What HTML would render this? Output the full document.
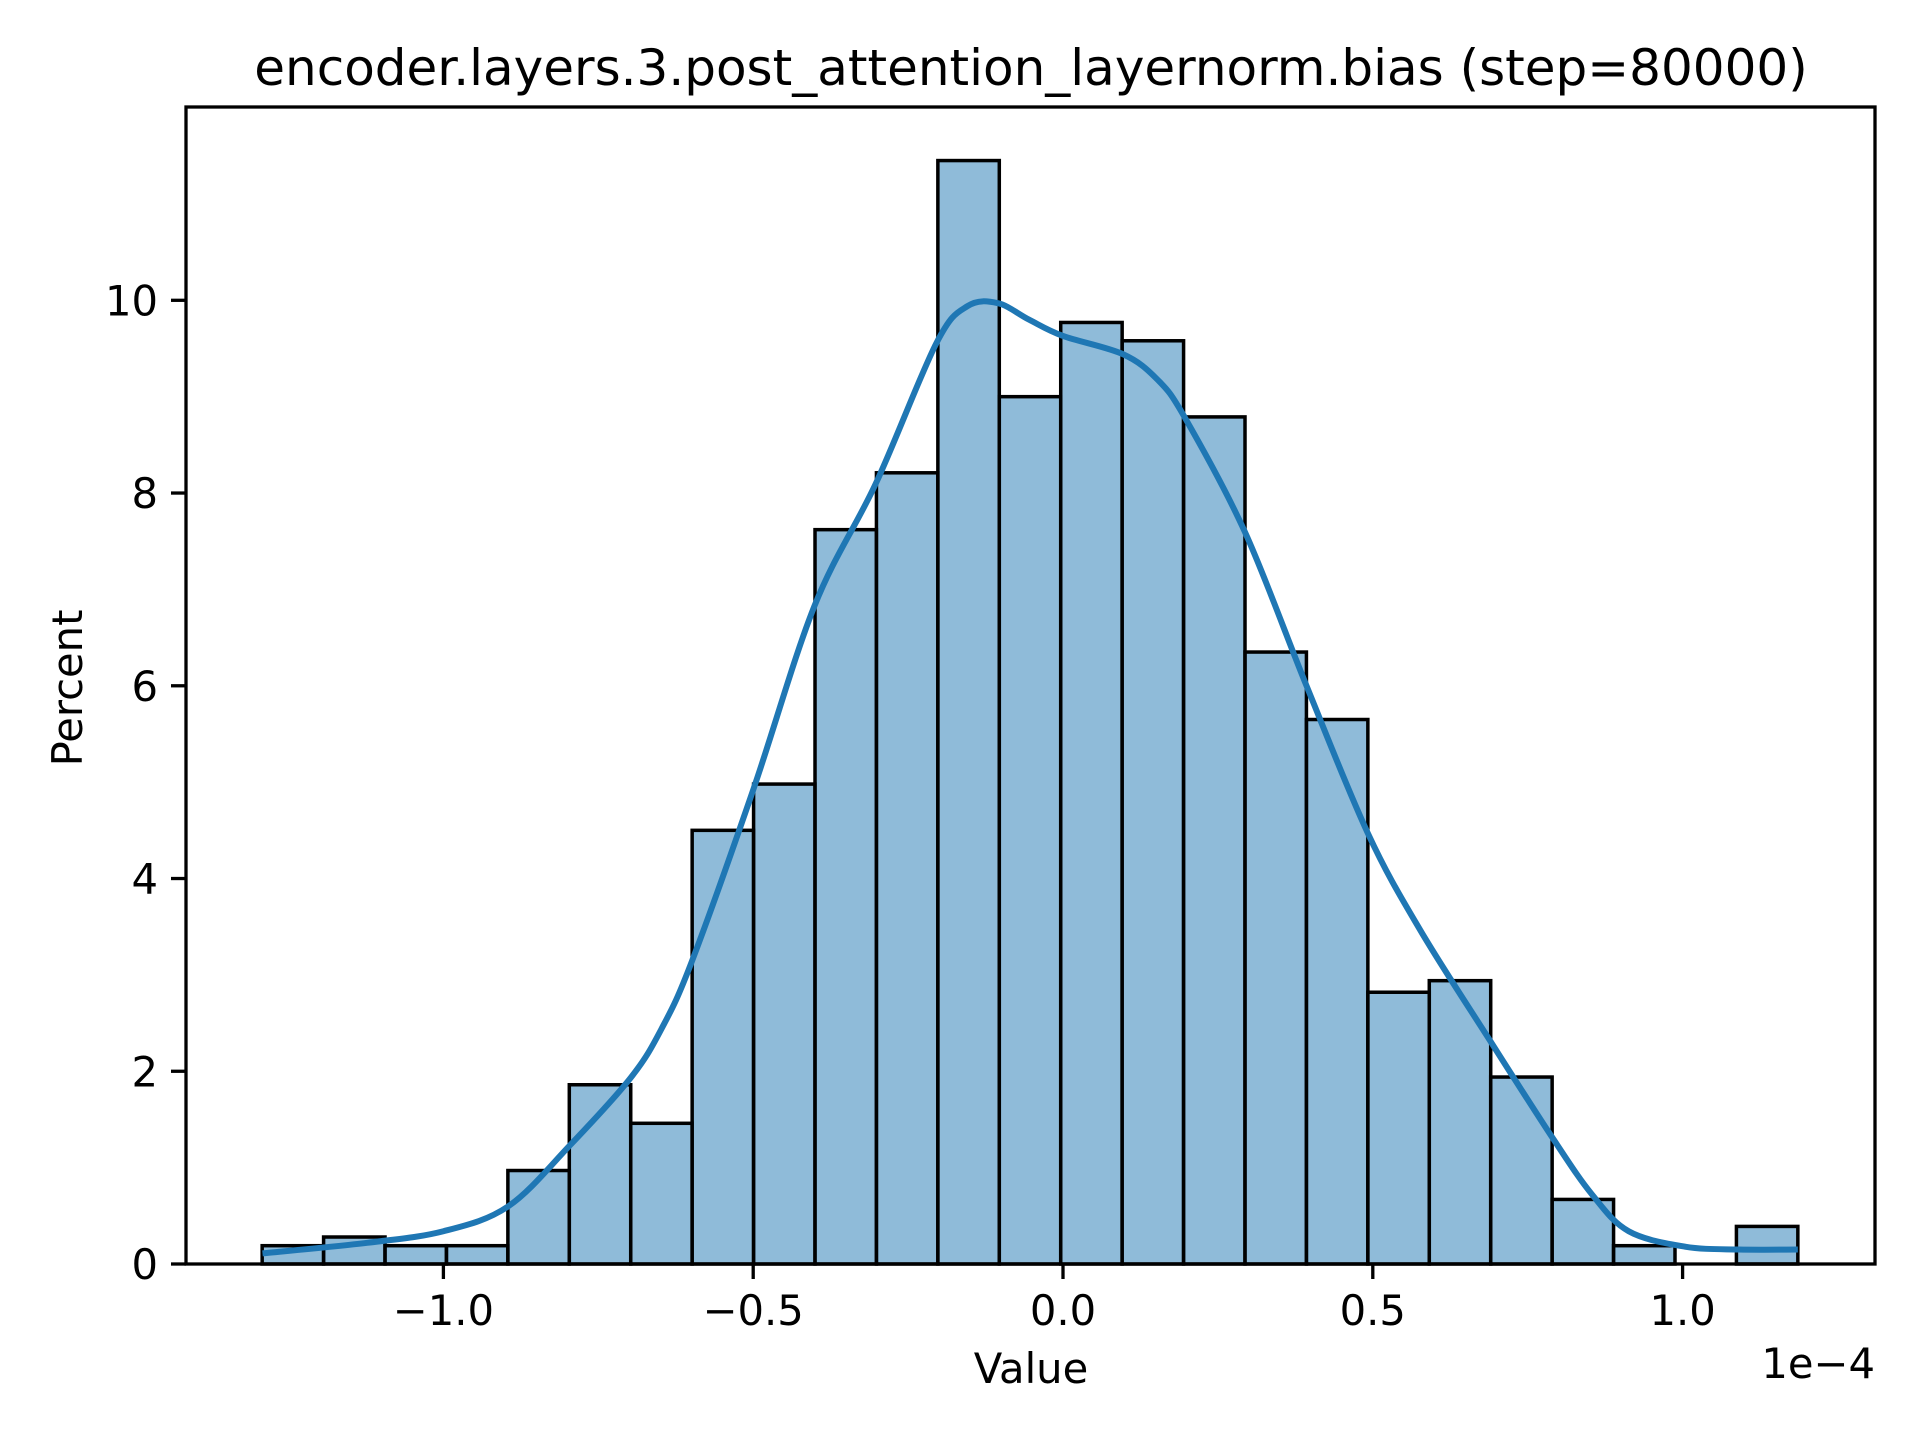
<!DOCTYPE html>
<html><head><meta charset="utf-8"><style>
body{margin:0;background:#fff}
svg{display:block;font-family:"DejaVu Sans","Liberation Sans",sans-serif}
</style></head><body>
<svg id="chart" width="1920" height="1440" viewBox="0 0 1920 1440" xmlns="http://www.w3.org/2000/svg">
<rect width="1920" height="1440" fill="#fff"/>
<g id="bars"></g>
<path id="kde" fill="none" stroke="#1f77b4" stroke-width="6" stroke-linecap="butt"/>
<rect x="186" y="107" width="1689" height="1157" fill="none" stroke="#000" stroke-width="3.3"/>
<g id="xticks"></g>
<g id="yticks"></g>
<text x="1031" y="85" font-size="50" text-anchor="middle">encoder.layers.3.post_attention_layernorm.bias (step=80000)</text>
<text x="1031" y="1383" font-size="41.7" text-anchor="middle">Value</text>
<text x="1875" y="1378" font-size="41.7" text-anchor="end">1e−4</text>
<text x="0" y="0" font-size="41.7" text-anchor="middle" transform="translate(82,688) rotate(-90)">Percent</text>
</svg>
<script>
const binStart = -1.2925;
const binWidth = 0.09914;
const binPercents = [0.19,0.28,0.19,0.19,0.97,1.86,1.46,4.50,4.98,7.62,8.21,11.45,9.00,9.77,9.58,8.79,6.35,5.65,2.82,2.94,1.94,0.67,0.19,0,0.39];
const kdeX = [-1.292,-1.123,-1.0,-0.895,-0.796,-0.698,-0.648,-0.599,-0.5,-0.401,-0.302,-0.204,-0.154,-0.105,-0.055,0,0.097,0.152,0.196,0.294,0.393,0.492,0.577,0.690,0.791,0.854,0.913,1.004,1.091,1.186];
const kdeY = [0.11,0.22,0.34,0.60,1.23,1.93,2.44,3.14,4.92,6.83,8.10,9.56,9.94,9.97,9.80,9.63,9.44,9.18,8.79,7.59,6.00,4.47,3.46,2.31,1.30,0.72,0.34,0.18,0.15,0.15];
const xTickVals = [-1.0,-0.5,0.0,0.5,1.0];
const xTickLabels = ["−1.0","−0.5","0.0","0.5","1.0"];
const yTickVals = [0,2,4,6,8,10];
const yTickLabels = ["0","2","4","6","8","10"];

const NS="http://www.w3.org/2000/svg";
function sx(v){return 1063 + v*619.6;}
function sy(p){return 1264 - p*96.37;}
function mk(tag,attrs,parent){const e=document.createElementNS(NS,tag);for(const k in attrs)e.setAttribute(k,attrs[k]);parent.appendChild(e);return e;}

const bars=document.getElementById('bars');
binPercents.forEach((p,i)=>{
  const x0=sx(binStart+i*binWidth), x1=sx(binStart+(i+1)*binWidth);
  const r=mk('rect',{x:x0,y:sy(p),width:x1-x0,height:sy(0)-sy(p),fill:'rgba(31,119,180,0.5)',stroke:'#000','stroke-width':3.5},bars);
  
  
});

const pts=kdeX.map((v,i)=>[sx(v),sy(kdeY[i])]);
let d='M'+pts[0][0]+','+pts[0][1];
for(let i=0;i<pts.length-1;i++){
  const p0=pts[i-1]||pts[i],p1=pts[i],p2=pts[i+1],p3=pts[i+2]||p2;
  const c1=[p1[0]+(p2[0]-p0[0])/6,p1[1]+(p2[1]-p0[1])/6];
  const c2=[p2[0]-(p3[0]-p1[0])/6,p2[1]-(p3[1]-p1[1])/6];
  d+=`C${c1[0]},${c1[1]} ${c2[0]},${c2[1]} ${p2[0]},${p2[1]}`;
}
document.getElementById('kde').setAttribute('d',d);

const xt=document.getElementById('xticks');
xTickVals.forEach((v,i)=>{
  const x=sx(v);
  const l=mk('line',{x1:x,x2:x,y1:1264,y2:1279,stroke:'#000','stroke-width':3.3},xt);
  
  
  const t=mk('text',{x:x,y:1325,'font-size':41.7,'text-anchor':'middle'},xt);
  t.textContent=xTickLabels[i];
  
  
});
const yt=document.getElementById('yticks');
yTickVals.forEach((v,i)=>{
  const y=sy(v);
  const l=mk('line',{x1:171,x2:186,y1:y,y2:y,stroke:'#000','stroke-width':3.3},yt);
  
  
  const t=mk('text',{x:158,y:y+15,'font-size':41.7,'text-anchor':'end'},yt);
  t.textContent=yTickLabels[i];
  
  
});
</script>
</body></html>
